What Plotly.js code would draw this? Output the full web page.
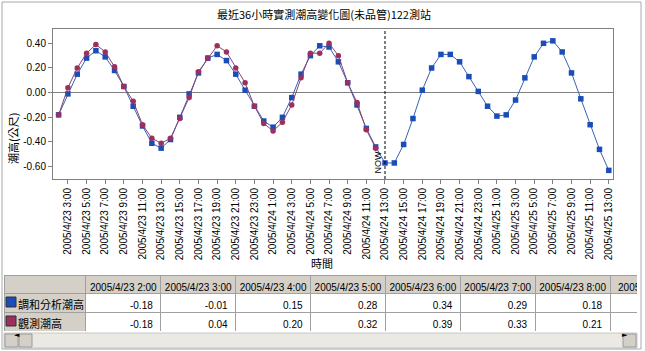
<!DOCTYPE html>
<html><head><meta charset="utf-8">
<script src="https://cdn.plot.ly/plotly-3.0.1.min.js"></script>
<style>html,body{margin:0;padding:0;background:#fff;overflow:hidden}#chart{width:645px;height:351px}</style>
</head><body><div id="chart"></div>
<script>
const times = [
"2005/4/23 2:00","2005/4/23 3:00","2005/4/23 4:00","2005/4/23 5:00","2005/4/23 6:00","2005/4/23 7:00",
"2005/4/23 8:00","2005/4/23 9:00","2005/4/23 10:00","2005/4/23 11:00","2005/4/23 12:00","2005/4/23 13:00",
"2005/4/23 14:00","2005/4/23 15:00","2005/4/23 16:00","2005/4/23 17:00","2005/4/23 18:00","2005/4/23 19:00",
"2005/4/23 20:00","2005/4/23 21:00","2005/4/23 22:00","2005/4/23 23:00",
"2005/4/24 0:00","2005/4/24 1:00","2005/4/24 2:00","2005/4/24 3:00","2005/4/24 4:00","2005/4/24 5:00",
"2005/4/24 6:00","2005/4/24 7:00","2005/4/24 8:00","2005/4/24 9:00","2005/4/24 10:00","2005/4/24 11:00",
"2005/4/24 12:00","2005/4/24 13:00","2005/4/24 14:00","2005/4/24 15:00","2005/4/24 16:00","2005/4/24 17:00",
"2005/4/24 18:00","2005/4/24 19:00","2005/4/24 20:00","2005/4/24 21:00","2005/4/24 22:00","2005/4/24 23:00",
"2005/4/25 0:00","2005/4/25 1:00","2005/4/25 2:00","2005/4/25 3:00","2005/4/25 4:00","2005/4/25 5:00",
"2005/4/25 6:00","2005/4/25 7:00","2005/4/25 8:00","2005/4/25 9:00","2005/4/25 10:00","2005/4/25 11:00",
"2005/4/25 12:00","2005/4/25 13:00"];
const tickTimes = [
"2005/4/23 3:00","2005/4/23 5:00","2005/4/23 7:00","2005/4/23 9:00","2005/4/23 11:00","2005/4/23 13:00",
"2005/4/23 15:00","2005/4/23 17:00","2005/4/23 19:00","2005/4/23 21:00","2005/4/23 23:00",
"2005/4/24 1:00","2005/4/24 3:00","2005/4/24 5:00","2005/4/24 7:00","2005/4/24 9:00","2005/4/24 11:00",
"2005/4/24 13:00","2005/4/24 15:00","2005/4/24 17:00","2005/4/24 19:00","2005/4/24 21:00","2005/4/24 23:00",
"2005/4/25 1:00","2005/4/25 3:00","2005/4/25 5:00","2005/4/25 7:00","2005/4/25 9:00","2005/4/25 11:00",
"2005/4/25 13:00"];
const harmonic = [
-0.18,-0.01,0.15,0.28,0.34,0.29,0.18,0.05,-0.11,-0.27,-0.41,-0.45,
-0.38,-0.20,-0.01,0.16,0.28,0.31,0.26,0.15,0.02,-0.11,
-0.23,-0.28,-0.20,-0.04,0.15,0.30,0.38,0.37,0.25,0.08,-0.10,-0.29,
-0.44,-0.57,-0.57,-0.42,-0.21,0.02,0.20,0.31,0.31,0.25,0.13,0.01,
-0.11,-0.19,-0.18,-0.06,0.12,0.29,0.40,0.42,0.33,0.16,-0.05,-0.26,
-0.46,-0.63];
const observed = [
-0.18,0.04,0.20,0.32,0.39,0.33,0.21,0.05,-0.07,-0.26,-0.37,-0.41,
-0.37,-0.21,-0.04,0.17,0.28,0.38,0.33,0.20,0.08,-0.11,
-0.25,-0.31,-0.24,-0.10,0.12,0.32,0.32,0.40,0.30,0.08,-0.08,-0.30,
-0.45];
const seriesNames = ["調和分析潮高","觀測潮高"];
const yTicks = [-0.6,-0.4,-0.2,0,0.2,0.4];
const nowTime = "2005/4/24 13:00";
const nowLabel = "NOW";
const titleText = "最近36小時實測潮高變化圖(未品管)122測站";
const xTitle = "時間";
const yTitle = "潮高(公尺)";
const tableFullCols = 7;   // fully visible data columns; one more is cut at the edge

const W = 645, H = 351;
const PX = p => p / W, PY = p => 1 - p / H;
const blue = "#1a4db8", blueLine = "#3a62b5", red = "#9c2f5e", redLine = "#8a4470";
const sans = "Liberation Sans, Arial, sans-serif";
const cjk = "Noto Sans CJK TC, sans-serif";
const nb = s => s.replace(/ /g, "\u00a0");

const traces = [
  {type: "scatter", mode: "lines+markers", name: seriesNames[0], x: times, y: harmonic,
   line: {color: blueLine, width: 1}, marker: {symbol: "square", size: 5.5, color: blue}, hoverinfo: "skip"},
  {type: "scatter", mode: "lines+markers", name: seriesNames[1], x: times.slice(0, observed.length), y: observed,
   line: {color: redLine, width: 1}, marker: {symbol: "circle", size: 5.5, color: red}, hoverinfo: "skip"}
];

// table: label column + 7 full columns + 1 column cut at the right edge
const headerVals = [""].concat(times.slice(0, tableFullCols + 1).map(nb));
const cellVals = [seriesNames.map(s => "\u00a0\u00a0" + s)];
for (let i = 0; i < tableFullCols; i++) cellVals.push([harmonic[i].toFixed(2), observed[i].toFixed(2)]);
cellVals.push(["", ""]);
const colW = [82]; for (let i = 0; i < tableFullCols; i++) colW.push(75); colW.push(35);
const cellFill = ["#d4d0c8"], cellAlign = ["left"], cellSize = [11], headAlign = ["center"];
for (let i = 1; i <= tableFullCols + 1; i++) { cellFill.push("#ffffff"); cellAlign.push("right"); cellSize.push(10); headAlign.push("center"); }
headAlign[headAlign.length - 1] = "left";

traces.push({
  type: "table",
  domain: {x: [PX(4), 1], y: [PY(331), PY(275)]},
  columnwidth: colW,
  header: {values: headerVals, height: 18, fill: {color: "#d4d0c8"}, align: headAlign,
           line: {color: "#a0a0a0", width: 1}, font: {family: sans, size: 10, color: "#000"}},
  cells: {values: cellVals, height: 19, fill: {color: cellFill}, align: cellAlign,
          line: {color: "#a0a0a0", width: 1},
          font: {family: sans + ", " + cjk, size: cellSize, color: "#000"}}
});

const shapes = [
  {type: "line", xref: "x", yref: "y domain", x0: nowTime, x1: nowTime, y0: 0, y1: 1,
   line: {color: "#000", width: 1, dash: "3px,2px"}},
  // mask beyond the table's visible width
  {type: "rect", xref: "paper", yref: "paper", x0: PX(637), x1: 1, y0: PY(351), y1: PY(268),
   fillcolor: "#ffffff", line: {width: 0}, layer: "above"},
  {type: "rect", xref: "paper", yref: "paper", x0: PX(4), x1: PX(637), y0: PY(348), y1: PY(333),
   fillcolor: "#ebe9e4", line: {color: "#c8c8c8", width: 1}, layer: "above"},
  {type: "rect", xref: "paper", yref: "paper", x0: PX(5), x1: PX(18), y0: PY(347), y1: PY(334),
   fillcolor: "#d4d0c8", line: {color: "#9a9a9a", width: 1}, layer: "above"},
  {type: "rect", xref: "paper", yref: "paper", x0: PX(19), x1: PX(32), y0: PY(347), y1: PY(334),
   fillcolor: "#d4d0c8", line: {color: "#9a9a9a", width: 1}, layer: "above"},
  {type: "rect", xref: "paper", yref: "paper", x0: PX(623), x1: PX(636), y0: PY(347), y1: PY(334),
   fillcolor: "#d4d0c8", line: {color: "#9a9a9a", width: 1}, layer: "above"},
  // legend swatches in the table's row-label column
  {type: "rect", xref: "paper", yref: "paper", x0: PX(6), x1: PX(16), y0: PY(307), y1: PY(297),
   fillcolor: blue, line: {color: "#333", width: 1}, layer: "above"},
  {type: "rect", xref: "paper", yref: "paper", x0: PX(6), x1: PX(16), y0: PY(326), y1: PY(316),
   fillcolor: red, line: {color: "#333", width: 1}, layer: "above"},
  {type: "rect", xref: "paper", yref: "paper", x0: PX(2), x1: PX(641), y0: PY(349), y1: PY(2),
   fillcolor: "rgba(0,0,0,0)", line: {color: "#a8a8a8", width: 1}, layer: "above"}
];

const annotations = [
  {text: nowLabel, xref: "x", yref: "paper", x: nowTime, y: PY(175), xshift: -7, textangle: -90,
   xanchor: "center", yanchor: "bottom", showarrow: false, font: {family: sans, size: 9, color: "#000"}},
  {text: xTitle, xref: "paper", yref: "paper", x: PX(322), y: PY(263), xanchor: "center", yanchor: "middle",
   showarrow: false, font: {family: cjk, size: 11, color: "#000"}},
  {text: yTitle, xref: "paper", yref: "paper", x: PX(13), y: PY(139), xanchor: "center", yanchor: "middle",
   textangle: -90, showarrow: false, font: {family: cjk, size: 11, color: "#000"}},
  {text: "◄", xref: "paper", yref: "paper", x: PX(11.5), y: PY(340.5), showarrow: false,
   font: {family: "DejaVu Sans", size: 7, color: "#000"}},
  {text: "►", xref: "paper", yref: "paper", x: PX(629.5), y: PY(340.5), showarrow: false,
   font: {family: "DejaVu Sans", size: 7, color: "#000"}}
];

const layout = {
  width: W, height: H, margin: {l: 0, r: 0, t: 0, b: 0},
  paper_bgcolor: "#fff", plot_bgcolor: "#fff", showlegend: false,
  title: {text: titleText, x: PX(324), y: PY(15), xanchor: "center", yanchor: "middle",
          font: {family: cjk, size: 11, color: "#000"}},
  xaxis: {domain: [PX(53), PX(613)], type: "category", range: [-0.6, 59.45],
          tickmode: "array", tickvals: tickTimes, ticktext: tickTimes, tickangle: -90,
          ticks: "outside", ticklen: 4, tickcolor: "#808080", showline: true, linecolor: "#808080",
          mirror: true, showgrid: false, zeroline: false, automargin: false,
          tickfont: {family: sans, size: 10, color: "#000"}},
  yaxis: {domain: [PY(179), PY(29)], range: [-0.70, 0.516],
          tickmode: "array", tickvals: yTicks, ticktext: yTicks.map(v => v.toFixed(2)),
          ticks: "outside", ticklen: 4, tickcolor: "#808080", showline: true, linecolor: "#808080",
          mirror: true, showgrid: false, zeroline: true, zerolinecolor: "#808080", zerolinewidth: 1,
          automargin: false, tickfont: {family: sans, size: 10, color: "#000"}},
  shapes: shapes, annotations: annotations
};

Plotly.newPlot("chart", traces, layout, {displayModeBar: false, staticPlot: true});
</script></body></html>
